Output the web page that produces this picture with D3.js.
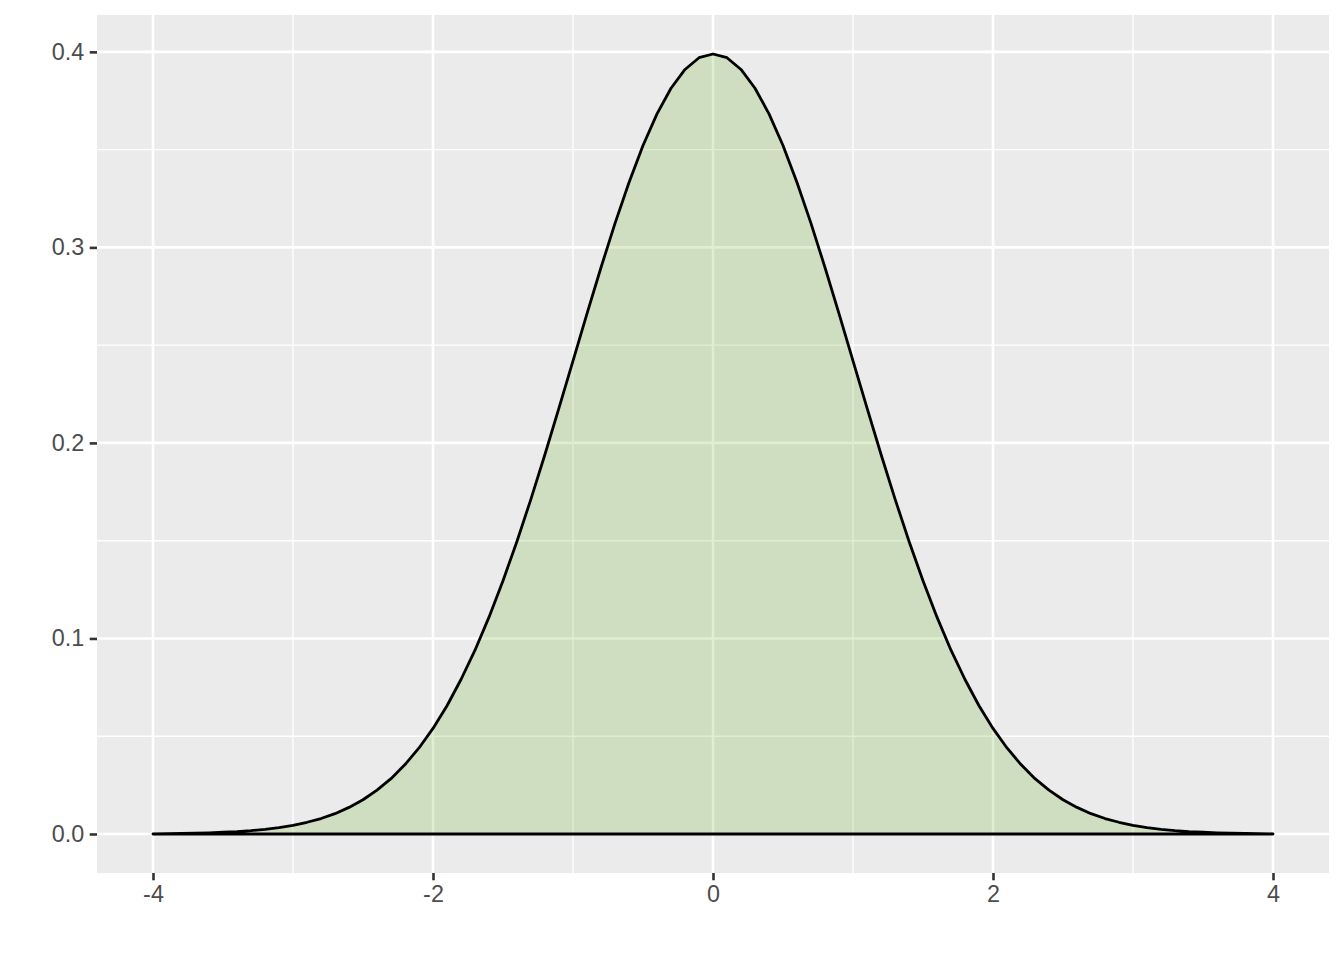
<!DOCTYPE html>
<html>
<head>
<meta charset="utf-8">
<script src="https://cdn.jsdelivr.net/npm/d3@7"></script>
<style>
  html, body { margin: 0; padding: 0; background: #ffffff; }
  svg { display: block; }
</style>
</head>
<body>
<svg id="chart" width="1344" height="960"></svg>
<script>
// Data (density curve)
const xValues = [
  -4.0,-3.9,-3.8,-3.7,-3.6,-3.5,-3.4,-3.3,-3.2,-3.1,
  -3.0,-2.9,-2.8,-2.7,-2.6,-2.5,-2.4,-2.3,-2.2,-2.1,
  -2.0,-1.9,-1.8,-1.7,-1.6,-1.5,-1.4,-1.3,-1.2,-1.1,
  -1.0,-0.9,-0.8,-0.7,-0.6,-0.5,-0.4,-0.3,-0.2,-0.1,
   0.0,
   0.1, 0.2, 0.3, 0.4, 0.5, 0.6, 0.7, 0.8, 0.9, 1.0,
   1.1, 1.2, 1.3, 1.4, 1.5, 1.6, 1.7, 1.8, 1.9, 2.0,
   2.1, 2.2, 2.3, 2.4, 2.5, 2.6, 2.7, 2.8, 2.9, 3.0,
   3.1, 3.2, 3.3, 3.4, 3.5, 3.6, 3.7, 3.8, 3.9, 4.0
];
const densityValues = [
  0.0001,0.0002,0.0003,0.0004,0.0006,0.0009,0.0012,0.0017,0.0024,0.0033,
  0.0044,0.0060,0.0079,0.0104,0.0136,0.0175,0.0224,0.0283,0.0355,0.0440,
  0.0540,0.0656,0.0790,0.0940,0.1109,0.1295,0.1497,0.1714,0.1942,0.2179,
  0.2420,0.2661,0.2897,0.3123,0.3332,0.3521,0.3683,0.3814,0.3910,0.3970,
  0.3989,
  0.3970,0.3910,0.3814,0.3683,0.3521,0.3332,0.3123,0.2897,0.2661,0.2420,
  0.2179,0.1942,0.1714,0.1497,0.1295,0.1109,0.0940,0.0790,0.0656,0.0540,
  0.0440,0.0355,0.0283,0.0224,0.0175,0.0136,0.0104,0.0079,0.0060,0.0044,
  0.0033,0.0024,0.0017,0.0012,0.0009,0.0006,0.0004,0.0003,0.0002,0.0001
];
const xTicks = [-4, -2, 0, 2, 4];
const xTickLabels = ["-4", "-2", "0", "2", "4"];
const xMinor = [-3, -1, 1, 3];
const yTicks = [0.0, 0.1, 0.2, 0.3, 0.4];
const yTickLabels = ["0.0", "0.1", "0.2", "0.3", "0.4"];
const yMinor = [0.05, 0.15, 0.25, 0.35];

const svg = d3.select("#chart");
const panel = { left: 97, right: 1329, top: 15, bottom: 873 };

const x = d3.scaleLinear().domain([-4.4, 4.4]).range([panel.left, panel.right]);
const y = d3.scaleLinear().domain([-0.01995, 0.41885]).range([panel.bottom, panel.top]);

// panel background
svg.append("rect")
  .attr("x", panel.left).attr("y", panel.top)
  .attr("width", panel.right - panel.left)
  .attr("height", panel.bottom - panel.top)
  .attr("fill", "#EBEBEB");

const grid = svg.append("g");
// minor grid
grid.selectAll(".xminor").data(xMinor).join("line")
  .attr("x1", d => x(d)).attr("x2", d => x(d))
  .attr("y1", panel.top).attr("y2", panel.bottom)
  .attr("stroke", "#ffffff").attr("stroke-width", 1.4);
grid.selectAll(".yminor").data(yMinor).join("line")
  .attr("y1", d => y(d)).attr("y2", d => y(d))
  .attr("x1", panel.left).attr("x2", panel.right)
  .attr("stroke", "#ffffff").attr("stroke-width", 1.4);
// major grid
grid.selectAll(".xmajor").data(xTicks).join("line")
  .attr("x1", d => x(d)).attr("x2", d => x(d))
  .attr("y1", panel.top).attr("y2", panel.bottom)
  .attr("stroke", "#ffffff").attr("stroke-width", 2.6);
grid.selectAll(".ymajor").data(yTicks).join("line")
  .attr("y1", d => y(d)).attr("y2", d => y(d))
  .attr("x1", panel.left).attr("x2", panel.right)
  .attr("stroke", "#ffffff").attr("stroke-width", 2.6);

// density area
const pts = xValues.map((v, i) => [v, densityValues[i]]);
const poly = pts.concat([[xValues[xValues.length - 1], 0], [xValues[0], 0]]);
const line = d3.line().x(d => x(d[0])).y(d => y(d[1]));
svg.append("path")
  .attr("d", line(poly) + "Z")
  .attr("fill", "rgb(95,170,20)")
  .attr("fill-opacity", 0.2)
  .attr("stroke", "#000000")
  .attr("stroke-width", 2.8)
  .attr("stroke-linejoin", "round");

// axes
const font = "'Liberation Sans', Arial, Helvetica, sans-serif";
const xAxis = d3.axisBottom(x).tickValues(xTicks)
  .tickFormat((d, i) => xTickLabels[i]).tickSize(7.3).tickPadding(5.5);
const gx = svg.append("g").attr("transform", `translate(0,${panel.bottom})`).call(xAxis);
gx.select(".domain").remove();
gx.selectAll(".tick line").attr("stroke", "#333333").attr("stroke-width", 2.6);
gx.selectAll(".tick text").attr("fill", "#4D4D4D")
  .style("font-family", font).style("font-size", "23.4px");

const yAxis = d3.axisLeft(y).tickValues(yTicks)
  .tickFormat((d, i) => yTickLabels[i]).tickSize(7.3).tickPadding(5.5);
const gy = svg.append("g").attr("transform", `translate(${panel.left},0)`).call(yAxis);
gy.select(".domain").remove();
gy.selectAll(".tick line").attr("stroke", "#333333").attr("stroke-width", 2.6);
gy.selectAll(".tick text").attr("fill", "#4D4D4D")
  .style("font-family", font).style("font-size", "23.4px");
</script>
</body>
</html>
